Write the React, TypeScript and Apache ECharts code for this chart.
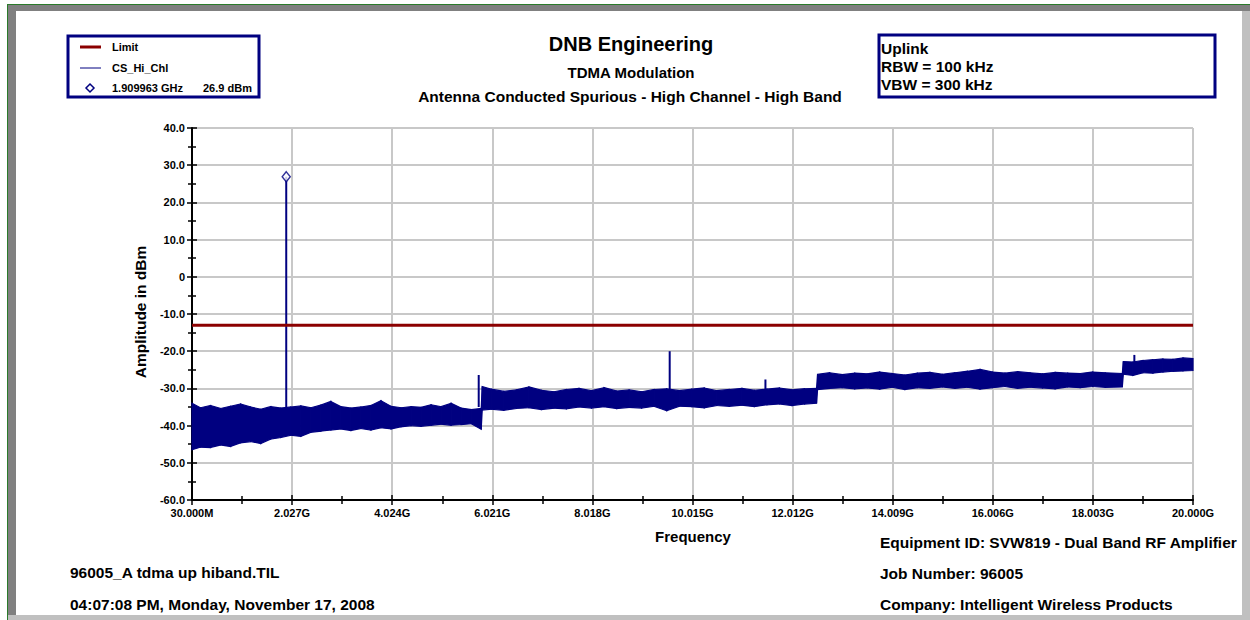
import React, { useEffect, useRef } from 'react';
import * as echarts from 'echarts';

// ---------- data ----------
const F0 = 0.03; // GHz, start frequency
const X_STEP = 1.997; // GHz between labelled ticks
const X_SPAN = 19.97; // GHz, 30 MHz .. 20 GHz

const yTicks = { min: -60, max: 40, step: 10 };

// trace envelope (GHz, dBm)
const bandFreq = [
  0.03, 0.2, 0.4, 0.6, 0.8, 1.0, 1.2, 1.4, 1.6, 1.8, 2.0, 2.2, 2.4, 2.6, 2.8, 3.0, 3.2, 3.4, 3.6, 3.8, 4.0, 4.2, 4.4, 4.6, 4.8, 5.0, 5.2, 5.4, 5.6, 5.8,
  5.82, 6.0, 6.25, 6.5, 6.75, 7.0, 7.25, 7.5, 7.75, 8.0, 8.25, 8.5, 8.75, 9.0, 9.25, 9.5, 9.75, 10.0, 10.25, 10.5, 10.75, 11.0, 11.25, 11.5, 11.75, 12.0, 12.25, 12.49,
  12.51, 12.75, 13.0, 13.25, 13.5, 13.75, 14.0, 14.25, 14.5, 14.75, 15.0, 15.25, 15.5, 15.75, 16.0, 16.25, 16.5, 16.75, 17.0, 17.25, 17.5, 17.75, 18.0, 18.25, 18.59,
  18.61, 18.8, 19.0, 19.2, 19.4, 19.6, 19.8, 20.0,
];
const bandUpper = [
  -34.0, -35.2, -34.6, -35.4, -34.8, -34.2, -35.0, -35.6, -34.9, -35.3, -35.0, -34.7, -35.2, -34.5, -33.5, -34.9, -35.3, -35.0, -34.6, -33.3, -34.8, -35.2, -34.9, -35.1, -34.4, -34.9, -34.0, -35.3, -35.7, -35.4,
  -29.5, -30.2, -30.8, -30.4, -29.6, -30.5, -30.9, -30.3, -30.0, -30.6, -29.8, -30.7, -30.4, -30.9, -30.3, -30.1, -30.6, -30.2, -29.9, -30.6, -30.3, -30.0, -30.5, -30.2, -29.9, -30.4, -30.1, -30.0,
  -26.2, -25.8, -26.3, -25.9, -26.1, -25.6, -26.0, -26.4, -25.9, -25.7, -26.2, -25.8, -25.4, -24.9, -25.6, -25.9, -25.5, -25.8, -26.1, -25.7, -25.9, -26.0, -25.6, -25.8, -26.0,
  -22.8, -22.9, -22.5, -22.3, -22.1, -22.2, -21.8, -22.0,
];
const bandLower = [
  -46.5, -45.8, -45.9, -45.2, -45.6, -44.6, -44.3, -44.8, -43.6, -43.2, -42.6, -42.9, -41.8, -41.5, -41.2, -40.9, -41.3, -40.8, -41.2, -40.6, -40.9, -40.3, -40.0, -40.2, -39.9, -39.6, -39.9, -39.7, -39.5, -41.0,
  -35.8, -35.6, -35.9, -35.4, -35.2, -35.7, -35.3, -35.5, -35.0, -35.3, -34.9, -35.4, -35.1, -35.3, -34.8, -36.0, -34.8, -34.9, -35.2, -34.6, -34.8, -34.5, -34.9, -34.4, -34.2, -34.6, -34.2, -34.0,
  -30.3, -30.0, -29.8, -30.1, -29.9, -30.2, -29.7, -30.3, -29.8, -30.0, -29.6, -30.0, -29.7, -30.2, -29.8, -29.5, -30.0, -29.7, -29.9, -30.1, -29.6, -29.8, -29.5, -29.7, -29.6,
  -26.2, -26.5, -25.8, -25.9, -25.6, -25.4, -25.3, -25.2,
];

// narrow spurs rising out of the noise
const spikeFreq = [1.909963, 5.75, 9.56, 11.47, 18.83];
const spikePeak = [26.9, -26.4, -20.0, -27.6, -21.0];
const spikeBase = [-36.0, -35.0, -33.0, -33.0, -24.0];

const limitDbm = -13;
const markerFreq = 1.909963;
const markerDbm = 26.9;

const titleLines = ['DNB Engineering', 'TDMA Modulation', 'Antenna Conducted Spurious - High Channel - High Band'];
const infoLines = ['Uplink', 'RBW = 100 kHz', 'VBW = 300 kHz'];
const legendNames = ['Limit', 'CS_Hi_Chl'];
const markerLabel = ['1.909963 GHz', '26.9 dBm'];
const footerLeft = ['96005_A tdma up hiband.TIL', '04:07:08 PM, Monday, November 17, 2008'];
const footerRight = ['Equipment ID: SVW819 - Dual Band RF Amplifier', 'Job Number: 96005', 'Company: Intelligent Wireless Products'];

// ---------- styling ----------
const FONT = '"Liberation Sans", Arial, Helvetica, sans-serif';
const NAVY = '#000080';
const LIMIT_RED = '#8b0000';

function txt(text: string, x: number, y: number, size: number, align: string = 'left', extra: any = {}) {
  return {
    type: 'text',
    x,
    y,
    silent: true,
    ...extra,
    style: {
      text,
      fontFamily: FONT,
      fontSize: size,
      fontWeight: 'bold',
      fill: '#000',
      align,
      verticalAlign: 'middle',
    },
  };
}

function xLabel(v: number) {
  const g = v + F0;
  if (g < 1) return (g * 1000).toFixed(3) + 'M';
  return g.toFixed(3) + 'G';
}

export default function App() {
  const ref = useRef<HTMLDivElement>(null);

  useEffect(() => {
    document.body.style.margin = '0';
    const chart = echarts.init(ref.current as HTMLDivElement, undefined, { renderer: 'svg' });

    const bandData = bandFreq.slice(0, -1).map((f, i) => [
      f - F0, bandLower[i], bandUpper[i],
      bandFreq[i + 1] - F0, bandLower[i + 1], bandUpper[i + 1],
    ]);
    const spikeData = spikeFreq.map((f, i) => [f - F0, spikeBase[i], spikePeak[i]]);

    const baseX = {
      type: 'value',
      min: 0,
      max: X_SPAN,
      interval: X_STEP,
      gridIndex: 0,
      position: 'bottom',
    };
    const baseY = {
      type: 'value',
      min: yTicks.min,
      max: yTicks.max,
      interval: yTicks.step,
      gridIndex: 0,
      position: 'left',
    };

    const option: any = {
      animation: false,
      backgroundColor: '#ffffff',
      grid: { left: 192, top: 128, width: 1001, height: 372, containLabel: false },
      xAxis: [
        {
          ...baseX,
          axisLine: { show: true, onZero: false, lineStyle: { color: '#000', width: 2 } },
          axisTick: { show: true, length: 5, lineStyle: { color: '#000', width: 1.5 } },
          minorTick: { show: true, splitNumber: 2, length: 4, lineStyle: { color: '#000', width: 1.5 } },
          axisLabel: {
            show: true,
            margin: 7,
            showMinLabel: true,
            showMaxLabel: true,
            formatter: xLabel,
            color: '#000',
            fontFamily: FONT,
            fontSize: 11,
            fontWeight: 'bold',
          },
          splitLine: { show: true, lineStyle: { color: '#c8c8c8', width: 2 } },
        },
        {
          ...baseX,
          axisLine: { show: false, onZero: false },
          axisTick: { show: true, inside: true, length: 5, lineStyle: { color: '#000', width: 1.5 } },
          minorTick: { show: true, splitNumber: 2, length: 4, lineStyle: { color: '#000', width: 1.5 } },
          axisLabel: { show: false },
          splitLine: { show: false },
        },
      ],
      yAxis: [
        {
          ...baseY,
          axisLine: { show: true, onZero: false, lineStyle: { color: '#000', width: 2 } },
          axisTick: { show: true, length: 5, lineStyle: { color: '#000', width: 1.5 } },
          minorTick: { show: true, splitNumber: 2, length: 4, lineStyle: { color: '#000', width: 1.5 } },
          axisLabel: {
            show: true,
            margin: 7,
            formatter: (v: number) => (v === 0 ? '0' : v.toFixed(1)),
            color: '#000',
            fontFamily: FONT,
            fontSize: 11,
            fontWeight: 'bold',
          },
          splitLine: { show: true, lineStyle: { color: '#c8c8c8', width: 2 } },
        },
        {
          ...baseY,
          axisLine: { show: false, onZero: false },
          axisTick: { show: true, inside: true, length: 5, lineStyle: { color: '#000', width: 1.5 } },
          minorTick: { show: true, splitNumber: 2, length: 4, lineStyle: { color: '#000', width: 1.5 } },
          axisLabel: { show: false },
          splitLine: { show: false },
        },
      ],
      series: [
        {
          name: 'CS_Hi_Chl',
          type: 'custom',
          xAxisIndex: 0,
          yAxisIndex: 0,
          data: bandData,
          encode: { x: [0, 3], y: [1, 2, 4, 5] },
          renderItem: (params: any, api: any) => {
            const a = api.coord([api.value(0), api.value(2)]);
            const b = api.coord([api.value(3), api.value(5)]);
            const c = api.coord([api.value(3), api.value(4)]);
            const d = api.coord([api.value(0), api.value(1)]);
            return {
              type: 'polygon',
              shape: { points: [a, b, c, d] },
              style: { fill: NAVY, stroke: NAVY, lineWidth: 1.2 },
            };
          },
          z: 3,
        },
        {
          name: 'spurs',
          type: 'custom',
          xAxisIndex: 0,
          yAxisIndex: 0,
          data: spikeData,
          encode: { x: 0, y: [1, 2] },
          renderItem: (params: any, api: any) => {
            const p0 = api.coord([api.value(0), api.value(1)]);
            const p1 = api.coord([api.value(0), api.value(2)]);
            return {
              type: 'line',
              shape: { x1: p0[0], y1: p0[1], x2: p1[0], y2: p1[1] },
              style: { stroke: NAVY, lineWidth: 2 },
            };
          },
          z: 3,
        },
        {
          name: 'Limit',
          type: 'line',
          xAxisIndex: 0,
          yAxisIndex: 0,
          data: [[0, limitDbm], [X_SPAN, limitDbm]],
          symbol: 'none',
          lineStyle: { color: LIMIT_RED, width: 3 },
          z: 4,
        },
        {
          name: 'marker',
          type: 'scatter',
          xAxisIndex: 0,
          yAxisIndex: 0,
          data: [[markerFreq - F0, markerDbm]],
          symbol: 'diamond',
          symbolSize: [8, 10],
          itemStyle: { color: '#ffffff', borderColor: NAVY, borderWidth: 1.5 },
          z: 5,
        },
      ],
      graphic: [
        // page frame
        { type: 'rect', silent: true, shape: { x: 7, y: 4, width: 1243, height: 1 }, style: { fill: '#2a7a2a' } },
        { type: 'rect', silent: true, shape: { x: 7, y: 4, width: 1, height: 616 }, style: { fill: '#2a7a2a' } },
        { type: 'rect', silent: true, shape: { x: 8, y: 5, width: 1242, height: 6 }, style: { fill: '#808080' } },
        { type: 'rect', silent: true, shape: { x: 8, y: 5, width: 8, height: 611 }, style: { fill: '#808080' } },
        { type: 'rect', silent: true, shape: { x: 1242, y: 11, width: 8, height: 609 }, style: { fill: '#c0c0c0' } },
        { type: 'rect', silent: true, shape: { x: 8, y: 615, width: 1242, height: 5 }, style: { fill: '#c0c0c0' } },

        // legend box
        { type: 'rect', silent: true, shape: { x: 68, y: 36, width: 191, height: 61 }, style: { fill: 'none', stroke: NAVY, lineWidth: 3 } },
        { type: 'line', silent: true, shape: { x1: 80, y1: 47, x2: 101, y2: 47 }, style: { stroke: LIMIT_RED, lineWidth: 3 } },
        txt(legendNames[0], 112, 47, 11),
        { type: 'line', silent: true, shape: { x1: 80, y1: 68, x2: 101, y2: 68 }, style: { stroke: NAVY, lineWidth: 1 } },
        txt(legendNames[1], 112, 68, 11),
        { type: 'polygon', silent: true, shape: { points: [[90, 84], [94, 88], [90, 92], [86, 88]] }, style: { fill: '#fff', stroke: NAVY, lineWidth: 1.5 } },
        txt(markerLabel[0], 112, 88, 11),
        txt(markerLabel[1], 203, 88, 11),

        // info box
        { type: 'rect', silent: true, shape: { x: 879, y: 35, width: 336, height: 62 }, style: { fill: 'none', stroke: NAVY, lineWidth: 3 } },
        txt(infoLines[0], 881, 48, 15.5),
        txt(infoLines[1], 881, 66, 15.5),
        txt(infoLines[2], 881, 84, 15.5),

        // titles
        txt(titleLines[0], 631, 44, 20, 'center'),
        txt(titleLines[1], 631, 72, 15, 'center'),
        txt(titleLines[2], 630, 96, 15.5, 'center'),

        // axis names
        txt('Amplitude in dBm', 140, 312, 15.5, 'center', { rotation: Math.PI / 2 }),
        txt('Frequency', 693, 536, 15, 'center'),

        // footers
        txt(footerLeft[0], 70, 572, 15.5),
        txt(footerLeft[1], 70, 604, 15.5),
        txt(footerRight[0], 880, 542, 15.5),
        txt(footerRight[1], 880, 573, 15.5),
        txt(footerRight[2], 880, 604, 15.5),
      ],
    };

    chart.setOption(option);
    return () => {
      chart.dispose();
    };
  }, []);

  return <div ref={ref} style={{ width: 1250, height: 620 }} />;
}
